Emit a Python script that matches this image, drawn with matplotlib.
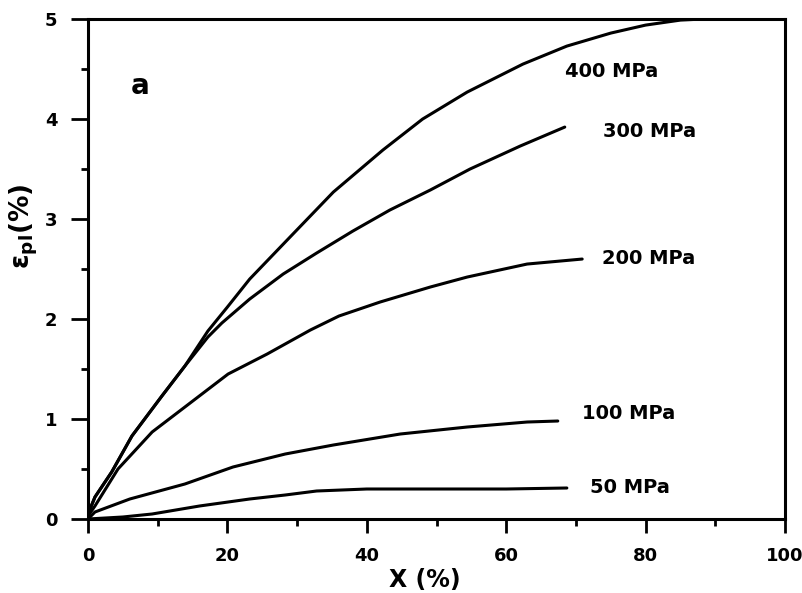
import matplotlib
matplotlib.use('Agg')
import matplotlib.pyplot as plt
from matplotlib.ticker import MultipleLocator

plt.rcParams['font.family'] = 'DejaVu Sans'
plt.rcParams['font.weight'] = 'bold'
plt.rcParams['mathtext.fontset'] = 'dejavusans'
plt.rcParams['mathtext.default'] = 'bf'

# curves: X (%) vs eps_pl (%)
x400 = [0, 1, 3.4, 6.3, 10.6, 13.9, 17.2, 20, 23.2, 29.4, 35.2, 42.3, 48, 54.4, 62.4, 68.7, 75, 80, 85, 88]
y400 = [0.05, 0.22, 0.47, 0.83, 1.23, 1.53, 1.88, 2.12, 2.4, 2.85, 3.27, 3.69, 4.0, 4.27, 4.55, 4.73, 4.86, 4.94, 4.99, 5.0]

x300 = [0, 1, 3.4, 6.3, 10.6, 13.9, 17.2, 19.2, 23.2, 28, 32.8, 38, 43.3, 49.1, 54.8, 62, 68.4]
y300 = [0.05, 0.22, 0.47, 0.83, 1.23, 1.53, 1.82, 1.96, 2.2, 2.45, 2.66, 2.88, 3.09, 3.29, 3.5, 3.73, 3.92]

x200 = [0, 1, 4.3, 9.2, 13.9, 20.1, 25.7, 31.9, 36, 41.9, 49.1, 54.4, 63, 70.9]
y200 = [0.03, 0.13, 0.5, 0.87, 1.12, 1.45, 1.65, 1.89, 2.03, 2.17, 2.32, 2.42, 2.55, 2.6]

x100 = [0, 1, 6, 13.9, 20.8, 28.3, 35.2, 44.8, 54.4, 63, 67.4]
y100 = [0.0, 0.07, 0.2, 0.35, 0.52, 0.65, 0.74, 0.85, 0.92, 0.97, 0.98]

x50 = [0, 5, 9.2, 16, 23.2, 28.3, 32.8, 40, 50, 60, 68.7]
y50 = [0.0, 0.02, 0.05, 0.13, 0.2, 0.24, 0.28, 0.3, 0.3, 0.3, 0.31]

labels = ['400 MPa', '300 MPa', '200 MPa', '100 MPa', '50 MPa']
label_x = [68.4, 73.9, 73.7, 70.9, 72.0]
label_y = [4.48, 3.88, 2.61, 1.06, 0.31]

fig = plt.figure(figsize=(8.03, 5.93), dpi=100)
ax = fig.add_axes([0.1096, 0.1248, 0.868, 0.843])

for xs, ys in [(x400, y400), (x300, y300), (x200, y200), (x100, y100), (x50, y50)]:
    ax.plot(xs, ys, color='black', lw=2.2, solid_capstyle='round', solid_joinstyle='round')

for lab, lx, ly in zip(labels, label_x, label_y):
    ax.text(lx, ly, lab, fontsize=14, fontweight='bold', va='center', ha='left')

ax.text(6.2, 4.33, 'a', fontsize=20, fontweight='bold', va='center', ha='left')

ax.set_xlim(0, 100)
ax.set_ylim(0, 5)
ax.xaxis.set_major_locator(MultipleLocator(20))
ax.xaxis.set_minor_locator(MultipleLocator(10))
ax.yaxis.set_major_locator(MultipleLocator(1))
ax.yaxis.set_minor_locator(MultipleLocator(0.5))
ax.tick_params(which='major', direction='out', length=10, width=2, labelsize=13, pad=10)
ax.tick_params(which='minor', direction='out', length=5, width=2)
ax.tick_params(axis='y', which='major', length=12, pad=10)
for s in ax.spines.values():
    s.set_linewidth(2.2)

fig.text(425 / 803, 1 - 580 / 593, 'X (%)', fontsize=17, fontweight='bold', ha='center', va='center')
fig.text(24 / 803, 1 - 226 / 593, r'$\epsilon_{pl}$(%)', fontsize=19, fontweight='bold',
         ha='center', va='center', rotation=90)

plt.savefig('out.png', dpi=100)
